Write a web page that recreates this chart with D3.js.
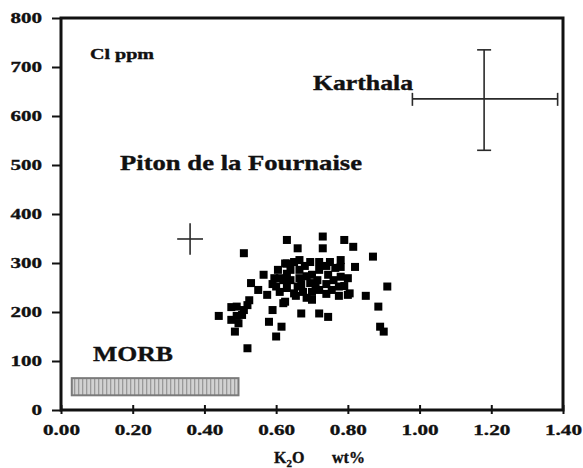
<!DOCTYPE html>
<html>
<head>
<meta charset="utf-8">
<script src="https://cdn.jsdelivr.net/npm/d3@7"></script>
<style>
  html, body { margin: 0; padding: 0; background: #fff; }
  svg { display: block; }
  text { font-family: "Liberation Serif", "Times New Roman", serif; font-weight: bold; fill: #111; stroke: #111; stroke-width: 0.35px; }
</style>
</head>
<body>
<svg id="chart" width="583" height="468"></svg>
<script>
// Piton de la Fournaise glasses: K2O (wt%) and Cl (ppm)
const k2o = [0.63, 0.66, 0.51, 0.73, 0.73, 0.79, 0.815, 0.87, 0.63, 0.565,
             0.53, 0.55, 0.575, 0.60, 0.62, 0.62, 0.59, 0.44, 0.49, 0.52,
             0.505, 0.495, 0.485, 0.58, 0.615, 0.60, 0.52, 0.67, 0.72, 0.745,
             0.82, 0.91, 0.80, 0.85, 0.885, 0.89, 0.90, 0.625, 0.665, 0.78,
             0.61, 0.66, 0.70, 0.745, 0.78, 0.775, 0.755, 0.72, 0.675, 0.65,
             0.805, 0.625, 0.695, 0.695, 0.72, 0.75, 0.64, 0.665, 0.72, 0.765,
             0.64, 0.665, 0.715, 0.80, 0.63, 0.70, 0.74, 0.605, 0.59, 0.685,
             0.78, 0.475, 0.65, 0.68, 0.74, 0.63, 0.685, 0.76, 0.79, 0.67,
             0.71, 0.74, 0.775, 0.655, 0.61, 0.595, 0.70, 0.51, 0.49, 0.525,
             0.475];
const cl  = [347, 330, 320, 354, 330, 347, 333, 313, 299, 276,
             259, 245, 235, 252, 265, 218, 204, 192, 211, 214,
             194, 177, 160, 180, 170, 150, 126, 197, 197, 190,
             292, 252, 235, 233, 211, 170, 160, 299, 306, 292,
             269, 252, 276, 276, 272, 252, 245, 245, 241, 238,
             238, 221, 259, 302, 302, 302, 286, 286, 286, 290,
             265, 269, 265, 269, 249, 241, 257, 286, 257, 229,
             306, 210, 302, 294, 294, 278, 273, 265, 253, 257,
             249, 237, 233, 233, 241, 269, 225, 204, 192, 224,
             184];

// Mean and spread of the two volcanoes (centre, low, high)
const karthalaK2O = [1.18, 0.98, 1.385];
const karthalaCl  = [635, 530, 735];
const pitonK2O    = [0.36, 0.324, 0.396];
const pitonCl     = [349, 317, 381];

// MORB field: K2O range and Cl range
const morbK2O = [0.03, 0.495];
const morbCl  = [30, 65];

// Axis ticks
const xTicks = [0, 0.2, 0.4, 0.6, 0.8, 1.0, 1.2, 1.4];
const yTicks = [0, 100, 200, 300, 400, 500, 600, 700, 800];

const svg = d3.select("#chart");
const x = d3.scaleLinear().domain([0, 1.4]).range([61, 563]);
const y = d3.scaleLinear().domain([0, 800]).range([410, 18]);

// striped fill for the MORB field
const defs = svg.append("defs");
const pat = defs.append("pattern")
  .attr("id", "stripes").attr("patternUnits", "userSpaceOnUse")
  .attr("width", 4).attr("height", 4);
pat.append("rect").attr("width", 4).attr("height", 4).attr("fill", "#d2d2d2");
pat.append("rect").attr("x", 2).attr("width", 1.3).attr("height", 4).attr("fill", "#9a9a9a");

// Y axis
const yAxis = svg.append("g")
  .attr("transform", `translate(${x(0)},0)`)
  .call(d3.axisLeft(y).tickValues(yTicks).tickSize(9).tickPadding(10).tickFormat(d3.format("d")));
yAxis.select(".domain").remove();
yAxis.selectAll(".tick line").attr("stroke", "#111").attr("stroke-width", 2);
yAxis.selectAll(".tick text")
  .style("font-size", "15px")
  .attr("fill", "#111")
  .attr("textLength", d => String(d).length * 10.5)
  .attr("lengthAdjust", "spacingAndGlyphs");

// X axis (ticks straddle the axis line)
const xAxis = svg.append("g")
  .attr("transform", `translate(0,${y(0)})`)
  .call(d3.axisBottom(x).tickValues(xTicks).tickSize(4).tickPadding(10).tickFormat(d3.format(".2f")));
xAxis.select(".domain").remove();
xAxis.selectAll(".tick line").attr("y1", -5).attr("stroke", "#111").attr("stroke-width", 2);
xAxis.selectAll(".tick text")
  .style("font-size", "15px")
  .attr("fill", "#111")
  .attr("textLength", 37)
  .attr("lengthAdjust", "spacingAndGlyphs");

// Plot frame
svg.append("rect")
  .attr("x", x(0)).attr("y", y(800))
  .attr("width", x(1.4) - x(0)).attr("height", y(0) - y(800))
  .attr("fill", "none").attr("stroke", "#111").attr("stroke-width", 3);

// MORB field
svg.append("rect")
  .attr("x", x(morbK2O[0])).attr("y", y(morbCl[1]))
  .attr("width", x(morbK2O[1]) - x(morbK2O[0]))
  .attr("height", y(morbCl[0]) - y(morbCl[1]))
  .attr("fill", "url(#stripes)").attr("stroke", "#7a7a7a").attr("stroke-width", 2);

// Error crosses
function cross(kx, cy, cap) {
  const g = svg.append("g").attr("stroke", "#2a2a2a").attr("stroke-width", 1.6).attr("fill", "none");
  g.append("line").attr("x1", x(kx[1])).attr("x2", x(kx[2])).attr("y1", y(cy[0])).attr("y2", y(cy[0]));
  g.append("line").attr("x1", x(kx[0])).attr("x2", x(kx[0])).attr("y1", y(cy[1])).attr("y2", y(cy[2]));
  if (cap) {
    g.append("line").attr("x1", x(kx[0]) - 7).attr("x2", x(kx[0]) + 7).attr("y1", y(cy[1])).attr("y2", y(cy[1]));
    g.append("line").attr("x1", x(kx[0]) - 7).attr("x2", x(kx[0]) + 7).attr("y1", y(cy[2])).attr("y2", y(cy[2]));
    g.append("line").attr("x1", x(kx[1])).attr("x2", x(kx[1])).attr("y1", y(cy[0]) - 6).attr("y2", y(cy[0]) + 7);
    g.append("line").attr("x1", x(kx[2])).attr("x2", x(kx[2])).attr("y1", y(cy[0]) - 6).attr("y2", y(cy[0]) + 7);
  }
}
cross(karthalaK2O, karthalaCl, true);
cross(pitonK2O, pitonCl, false);

// Sample points
const pts = k2o.map((v, i) => [v, cl[i]]);
svg.append("g").selectAll("rect").data(pts).join("rect")
  .attr("x", d => x(d[0]) - 4).attr("y", d => y(d[1]) - 4)
  .attr("width", 8).attr("height", 8)
  .attr("fill", "#000");

// Labels
function label(txt, lx, ly, size, len) {
  svg.append("text").attr("x", lx).attr("y", ly)
    .style("font-size", size + "px")
    .attr("textLength", len).attr("lengthAdjust", "spacingAndGlyphs")
    .text(txt);
}
label("Cl ppm", 90, 59, 14, 64);
label("Karthala", 313, 90, 20, 100);
label("Piton de la Fournaise", 120, 170, 21, 242);
label("MORB", 93, 361, 22, 80);

// X axis title with subscript
const title = svg.append("text").attr("x", 274).attr("y", 463).style("font-size", "16px");
title.append("tspan").text("K");
title.append("tspan").attr("dy", 4).style("font-size", "11px").text("2");
title.append("tspan").attr("dy", -4).text("O");
title.append("tspan").attr("x", 332).text("wt%");
</script>
</body>
</html>
